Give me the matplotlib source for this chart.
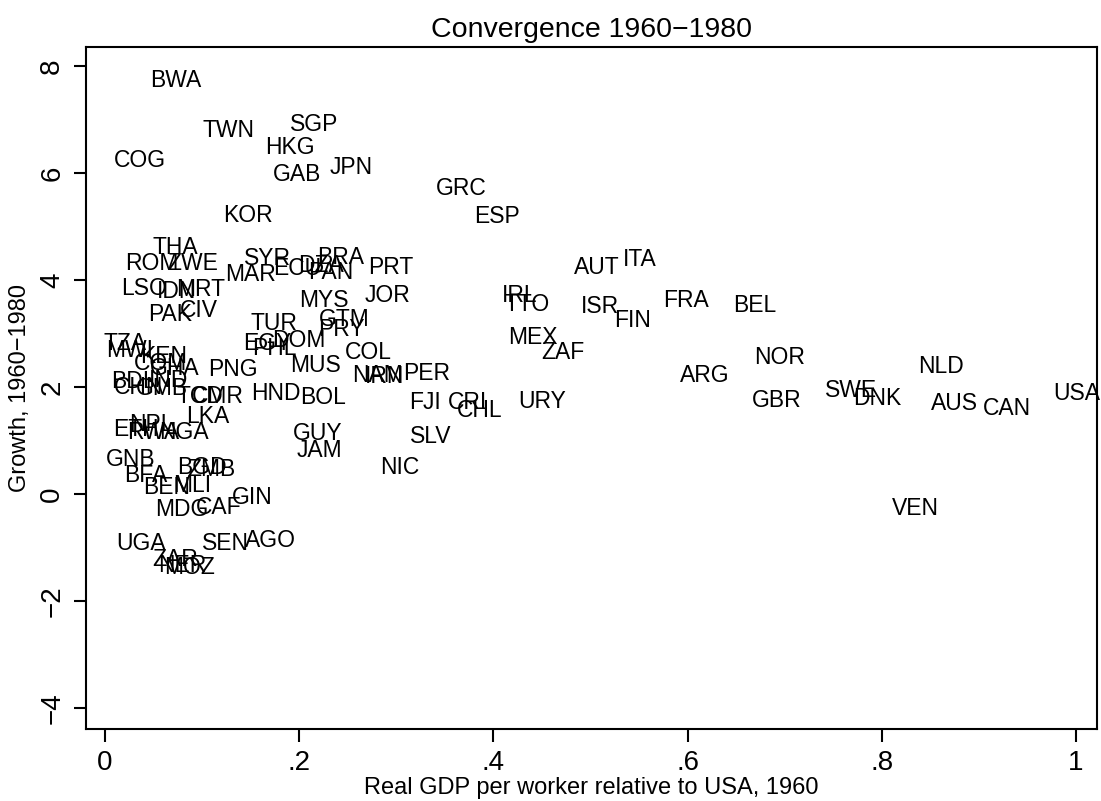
import matplotlib.pyplot as plt
import numpy as np

plt.rcParams['font.family'] = ['Liberation Sans', 'DejaVu Sans']

# country codes, relative GDP per worker in 1960 (USA = 1), growth 1960-1980
codes = ['BWA', 'TWN', 'SGP', 'HKG', 'COG', 'GAB', 'JPN', 'GRC', 'ESP', 'KOR',
         'THA', 'ROM', 'ZWE', 'SYR', 'MAR', 'ECU', 'DZA', 'PAN', 'BRA', 'PRT',
         'LSO', 'IDN', 'MRT', 'CIV', 'PAK', 'MYS', 'JOR', 'TUR', 'GTM', 'PRY',
         'EGY', 'DOM', 'PHL', 'COL', 'MUS', 'PNG', 'NAM', 'IRN', 'PER', 'HND',
         'BOL', 'FJI', 'CRI', 'CHL', 'GUY', 'JAM', 'SLV', 'NIC',
         'TZA', 'MWI', 'KEN', 'COM', 'GHA', 'BDI', 'IND', 'CHN', 'GMB',
         'TCD', 'CMR', 'LKA', 'NPL', 'ETH', 'RWA', 'NGA', 'GNB', 'BFA', 'BEN',
         'BGD', 'ZMB', 'MLI', 'MDG', 'CAF', 'GIN', 'UGA', 'SEN', 'AGO', 'ZAR',
         'MOZ', 'NER',
         'IRL', 'TTO', 'MEX', 'ZAF', 'URY', 'AUT', 'ITA', 'ISR', 'FIN', 'FRA',
         'BEL', 'ARG', 'NOR', 'GBR', 'SWE', 'DNK', 'NLD', 'AUS', 'CAN', 'USA',
         'VEN']
rel_gdp = [0.073, 0.127, 0.215, 0.190, 0.036, 0.198, 0.254, 0.367, 0.404, 0.147,
           0.072, 0.048, 0.090, 0.167, 0.150, 0.198, 0.222, 0.232, 0.243, 0.294,
           0.040, 0.074, 0.098, 0.097, 0.067, 0.225, 0.291, 0.174, 0.246, 0.243,
           0.167, 0.200, 0.174, 0.271, 0.217, 0.132, 0.281, 0.288, 0.331, 0.176,
           0.225, 0.330, 0.373, 0.386, 0.219, 0.221, 0.335, 0.304,
           0.021, 0.025, 0.060, 0.057, 0.072, 0.026, 0.065, 0.035, 0.059,
           0.098, 0.116, 0.106, 0.048, 0.032, 0.050, 0.081, 0.026, 0.042, 0.063,
           0.100, 0.110, 0.090, 0.079, 0.117, 0.152, 0.037, 0.124, 0.170, 0.072,
           0.087, 0.080,
           0.427, 0.435, 0.441, 0.472, 0.450, 0.506, 0.551, 0.510, 0.543, 0.598,
           0.669, 0.618, 0.695, 0.692, 0.768, 0.795, 0.861, 0.875, 0.929, 1.001,
           0.835]
growth = [7.74, 6.79, 6.92, 6.49, 6.24, 5.98, 6.11, 5.72, 5.20, 5.21,
          4.62, 4.32, 4.32, 4.41, 4.11, 4.22, 4.28, 4.15, 4.43, 4.24,
          3.85, 3.78, 3.82, 3.44, 3.35, 3.63, 3.72, 3.19, 3.27, 3.07,
          2.82, 2.88, 2.73, 2.65, 2.41, 2.33, 2.22, 2.20, 2.26, 1.89,
          1.81, 1.72, 1.72, 1.57, 1.14, 0.82, 1.07, 0.49,
          2.82, 2.69, 2.57, 2.45, 2.35, 2.10, 2.12, 2.00, 1.98,
          1.83, 1.83, 1.46, 1.31, 1.20, 1.16, 1.16, 0.64, 0.34, 0.13,
          0.50, 0.47, 0.17, -0.28, -0.24, -0.07, -0.92, -0.92, -0.86, -1.23,
          -1.38, -1.33,
          3.72, 3.55, 2.92, 2.65, 1.74, 4.24, 4.39, 3.50, 3.25, 3.63,
          3.53, 2.21, 2.56, 1.76, 1.94, 1.79, 2.39, 1.70, 1.61, 1.89,
          -0.26]

x_ticks = [0, 0.2, 0.4, 0.6, 0.8, 1.0]
x_tick_labels = ['0', '.2', '.4', '.6', '.8', '1']
y_ticks = [-4, -2, 0, 2, 4, 6, 8]

fig = plt.figure(figsize=(11.01, 8.01), dpi=100)
ax = fig.add_axes([0.0781, 0.0899, 0.9183, 0.8514])

# one text label per country, centred on the data point
for code, x, y in zip(codes, rel_gdp, growth):
    ax.text(x, y, code, ha='center', va='center', fontsize=16.5, color='black')

ax.set_xlim(-0.0196, 1.0216)
ax.set_ylim(-4.39, 8.36)
ax.set_xticks(x_ticks)
ax.set_xticklabels(x_tick_labels)
ax.set_yticks(y_ticks)
ax.set_yticklabels([str(v).replace('-', '\u2212') for v in y_ticks],
                   rotation=90, va='center')
ax.tick_params(direction='out', length=9, width=1.5, labelsize=20, pad=6)
for spine in ax.spines.values():
    spine.set_linewidth(1.5)

ax.set_title('Convergence 1960\u22121980', fontsize=20.5, pad=7)
ax.set_xlabel('Real GDP per worker relative to USA, 1960', fontsize=17, labelpad=1)
ax.set_ylabel('Growth, 1960\u22121980', fontsize=17, labelpad=6)

plt.savefig('out.png', dpi=100)
